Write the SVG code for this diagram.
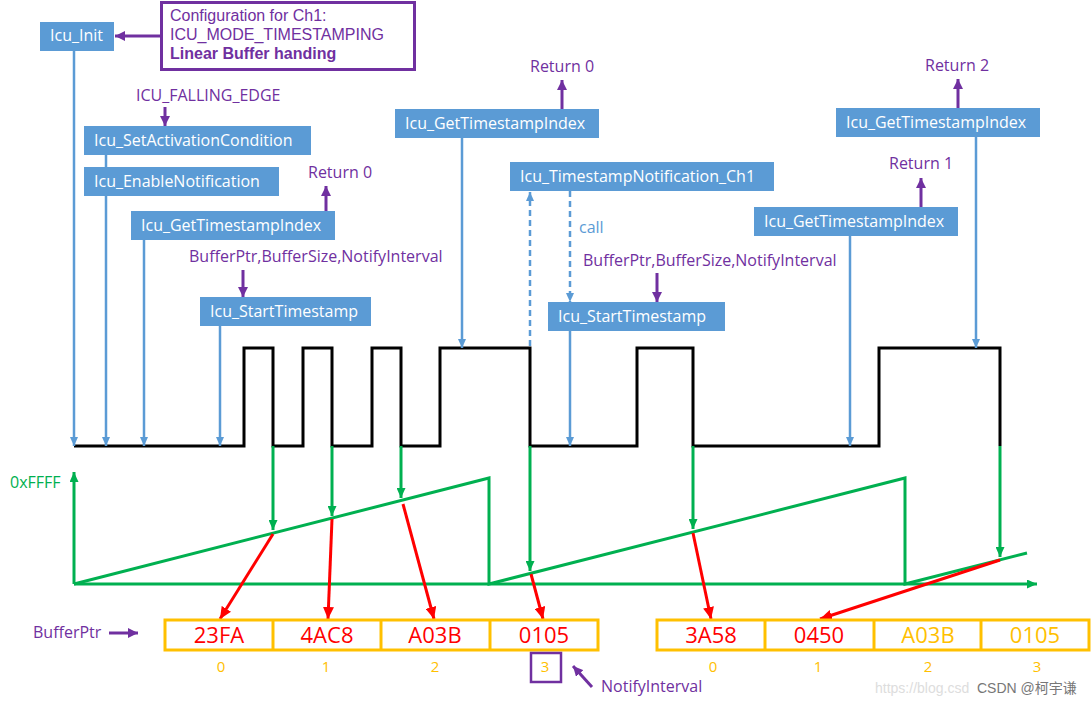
<svg xmlns="http://www.w3.org/2000/svg" width="1091" height="706" viewBox="0 0 1091 706">
<style>
.box{fill:#5B9BD5}
.bt{font-family:"Open Sans","Noto Sans",sans-serif;font-size:16px;fill:#FFFFFF}
.pt{font-family:"Open Sans","Noto Sans",sans-serif;font-size:16px;fill:#7030A0}
.ct{font-family:"Liberation Sans",Arial,sans-serif;font-size:16px;fill:#7030A0}
.bl{stroke:#5B9BD5;stroke-width:2.5;fill:none}
.dash{stroke-dasharray:6 4}
.pu{stroke:#7030A0;stroke-width:3;fill:none}
.gr{stroke:#00B050;stroke-width:3;fill:none}
.rd{stroke:#FF0000;stroke-width:3;fill:none}
.wave{stroke:#000000;stroke-width:3;fill:none;stroke-linejoin:miter}
.cell{fill:none;stroke:#FFC000;stroke-width:3}
.val{font-family:"Open Sans","Noto Sans",sans-serif;font-size:22px;text-anchor:middle}
.idx{font-family:"Open Sans","Noto Sans",sans-serif;font-size:15px;fill:#FFC000;text-anchor:middle}
</style>
<defs>
<marker id="ab" markerUnits="userSpaceOnUse" markerWidth="9" markerHeight="8" refX="9" refY="4" orient="auto" viewBox="0 0 9 8"><path d="M0,0 L9,4 L0,8 z" fill="#5B9BD5"/></marker>
<marker id="ap" markerUnits="userSpaceOnUse" markerWidth="10" markerHeight="10" refX="10" refY="5" orient="auto" viewBox="0 0 10 10"><path d="M0,0 L10,5 L0,10 z" fill="#7030A0"/></marker>
<marker id="ag" markerUnits="userSpaceOnUse" markerWidth="10" markerHeight="9" refX="10" refY="4.5" orient="auto" viewBox="0 0 10 9"><path d="M0,0 L10,4.5 L0,9 z" fill="#00B050"/></marker>
<marker id="ar" markerUnits="userSpaceOnUse" markerWidth="12" markerHeight="11" refX="12" refY="5.5" orient="auto" viewBox="0 0 12 11"><path d="M0,0 L12,5.5 L0,11 z" fill="#FF0000"/></marker>
</defs>

<g id="waveform">
<path class="wave" d="M74,446 H244 V348 H273 V446 H303 V348 H332 V446 H372 V348 H401 V446 H440 V348 H530 V446 H637 V348 H693 V446 H879 V348 H1000 V446"/>
</g>

<g id="counter">
<path class="gr" d="M74,584 L489,478 V584 L905,478 V584 L1027,553"/>
<text x="10" y="488" font-family="'Open Sans','Noto Sans',sans-serif" font-size="16" fill="#00B050">0xFFFF</text>
</g>

<g id="connectors">
<line class="bl" x1="74" y1="51" x2="74" y2="446" marker-end="url(#ab)"/>
<line class="bl" x1="106" y1="155" x2="106" y2="446" marker-end="url(#ab)"/>
<line class="bl" x1="144" y1="240" x2="144" y2="446" marker-end="url(#ab)"/>
<line class="bl" x1="220" y1="326" x2="220" y2="446" marker-end="url(#ab)"/>
<line class="bl" x1="462" y1="138" x2="462" y2="348" marker-end="url(#ab)"/>
<line class="bl dash" x1="530" y1="346" x2="530" y2="192" marker-end="url(#ab)"/>
<line class="bl dash" x1="570" y1="191" x2="570" y2="302" marker-end="url(#ab)"/>
<line class="bl" x1="570" y1="331" x2="570" y2="446" marker-end="url(#ab)"/>
<line class="bl" x1="850" y1="236" x2="850" y2="446" marker-end="url(#ab)"/>
<line class="bl" x1="976" y1="137" x2="976" y2="348" marker-end="url(#ab)"/>
<line class="pu" x1="160" y1="36" x2="115" y2="36" marker-end="url(#ap)"/>
<line class="pu" x1="165" y1="107" x2="165" y2="126" marker-end="url(#ap)"/>
<line class="pu" x1="326" y1="211" x2="326" y2="186" marker-end="url(#ap)"/>
<line class="pu" x1="562" y1="109" x2="562" y2="80" marker-end="url(#ap)"/>
<line class="pu" x1="958" y1="108" x2="958" y2="79" marker-end="url(#ap)"/>
<line class="pu" x1="921" y1="207" x2="921" y2="178" marker-end="url(#ap)"/>
<line class="pu" x1="243" y1="270" x2="243" y2="297" marker-end="url(#ap)"/>
<line class="pu" x1="657" y1="273" x2="657" y2="302" marker-end="url(#ap)"/>
<line class="pu" x1="109" y1="633" x2="138" y2="633" marker-end="url(#ap)"/>
<line class="pu" x1="592" y1="687" x2="573" y2="666" marker-end="url(#ap)"/>
<line class="gr" x1="273" y1="446" x2="273" y2="530" marker-end="url(#ag)"/>
<line class="gr" x1="332" y1="446" x2="332" y2="516" marker-end="url(#ag)"/>
<line class="gr" x1="401" y1="446" x2="401" y2="498" marker-end="url(#ag)"/>
<line class="gr" x1="530" y1="446" x2="530" y2="571" marker-end="url(#ag)"/>
<line class="gr" x1="693" y1="446" x2="693" y2="529" marker-end="url(#ag)"/>
<line class="gr" x1="1000" y1="446" x2="1000" y2="557" marker-end="url(#ag)"/>
<line class="gr" x1="74" y1="584" x2="74" y2="472" marker-end="url(#ag)"/>
<line class="gr" x1="74" y1="584" x2="1037" y2="584" marker-end="url(#ag)"/>
<line class="rd" x1="273" y1="534" x2="220" y2="619" marker-end="url(#ar)"/>
<line class="rd" x1="332" y1="519" x2="328" y2="619" marker-end="url(#ar)"/>
<line class="rd" x1="403" y1="504" x2="434" y2="619" marker-end="url(#ar)"/>
<line class="rd" x1="531" y1="574" x2="543" y2="619" marker-end="url(#ar)"/>
<line class="rd" x1="693" y1="533" x2="711" y2="619" marker-end="url(#ar)"/>
<line class="rd" x1="1000" y1="560" x2="820" y2="619" marker-end="url(#ar)"/>
</g>

<g id="config">
<rect x="161.5" y="2.5" width="253" height="67" fill="#FFFFFF" stroke="#7030A0" stroke-width="3"/>
<text class="ct" x="170" y="21">Configuration for Ch1:</text>
<text class="ct" x="170" y="40">ICU_MODE_TIMESTAMPING</text>
<text class="ct" x="170" y="59" font-weight="bold">Linear Buffer handing</text>
</g>

<g id="icu_init"><rect class="box" x="40" y="22" width="74" height="29"/><text class="bt" x="50" y="41">Icu_Init</text></g>
<g id="set_activation"><rect class="box" x="84" y="126" width="227" height="29"/><text class="bt" x="94" y="146">Icu_SetActivationCondition</text></g>
<g id="enable_notification"><rect class="box" x="84" y="167" width="195" height="29"/><text class="bt" x="94" y="187">Icu_EnableNotification</text></g>
<g id="get_index_1"><rect class="box" x="131" y="211" width="204" height="29"/><text class="bt" x="141" y="231">Icu_GetTimestampIndex</text></g>
<g id="start_ts_1"><rect class="box" x="200" y="297" width="171" height="29"/><text class="bt" x="210" y="317">Icu_StartTimestamp</text></g>
<g id="get_index_2"><rect class="box" x="395" y="109" width="204" height="29"/><text class="bt" x="405" y="129">Icu_GetTimestampIndex</text></g>
<g id="notification"><rect class="box" x="510" y="162" width="264" height="29"/><text class="bt" x="520" y="182">Icu_TimestampNotification_Ch1</text></g>
<g id="start_ts_2"><rect class="box" x="548" y="302" width="177" height="29"/><text class="bt" x="558" y="322">Icu_StartTimestamp</text></g>
<g id="get_index_3"><rect class="box" x="754" y="207" width="204" height="29"/><text class="bt" x="764" y="227">Icu_GetTimestampIndex</text></g>
<g id="get_index_4"><rect class="box" x="836" y="108" width="204" height="29"/><text class="bt" x="846" y="128">Icu_GetTimestampIndex</text></g>

<g id="labels">
<text class="pt" x="136" y="101">ICU_FALLING_EDGE</text>
<text class="pt" x="308" y="178">Return 0</text>
<text class="pt" x="530" y="72">Return 0</text>
<text class="pt" x="925" y="71">Return 2</text>
<text class="pt" x="889" y="169">Return 1</text>
<text class="pt" x="189" y="262">BufferPtr,BufferSize,NotifyInterval</text>
<text class="pt" x="583" y="266">BufferPtr,BufferSize,NotifyInterval</text>
<text x="579" y="233" font-family="'Open Sans','Noto Sans',sans-serif" font-size="16" fill="#5B9BD5">call</text>
<text class="pt" x="33" y="638">BufferPtr</text>
<text class="pt" x="601" y="692">NotifyInterval</text>
</g>

<g id="buffer_1">
<rect class="cell" x="165" y="620" width="433" height="30"/>
<line class="cell" x1="273" y1="620" x2="273" y2="650"/>
<line class="cell" x1="381" y1="620" x2="381" y2="650"/>
<line class="cell" x1="490" y1="620" x2="490" y2="650"/>
<text class="val" x="219" y="643" fill="#FF0000">23FA</text>
<text class="val" x="327" y="643" fill="#FF0000">4AC8</text>
<text class="val" x="435" y="643" fill="#FF0000">A03B</text>
<text class="val" x="544" y="643" fill="#FF0000">0105</text>
<text class="idx" x="221" y="672">0</text>
<text class="idx" x="326" y="672">1</text>
<text class="idx" x="435" y="672">2</text>
<text class="idx" x="545" y="672">3</text>
<rect x="531" y="653" width="30" height="29" fill="none" stroke="#7030A0" stroke-width="2.5"/>
</g>

<g id="buffer_2">
<rect class="cell" x="657" y="620" width="432" height="30"/>
<line class="cell" x1="765" y1="620" x2="765" y2="650"/>
<line class="cell" x1="874" y1="620" x2="874" y2="650"/>
<line class="cell" x1="981" y1="620" x2="981" y2="650"/>
<text class="val" x="711" y="643" fill="#FF0000">3A58</text>
<text class="val" x="819" y="643" fill="#FF0000">0450</text>
<text class="val" x="928" y="643" fill="#FFC000">A03B</text>
<text class="val" x="1035" y="643" fill="#FFC000">0105</text>
<text class="idx" x="713" y="672">0</text>
<text class="idx" x="818" y="672">1</text>
<text class="idx" x="928" y="672">2</text>
<text class="idx" x="1037" y="672">3</text>
</g>

<g id="watermark">
<text x="875" y="693" font-family="'Liberation Sans',sans-serif" font-size="14" fill="#DDDDDD">https://blog.csd</text>
<text x="977" y="693" font-family="'Liberation Sans','Noto Sans CJK SC',sans-serif" font-size="14" fill="#777777">CSDN @柯宇谦</text>
</g>
</svg>
